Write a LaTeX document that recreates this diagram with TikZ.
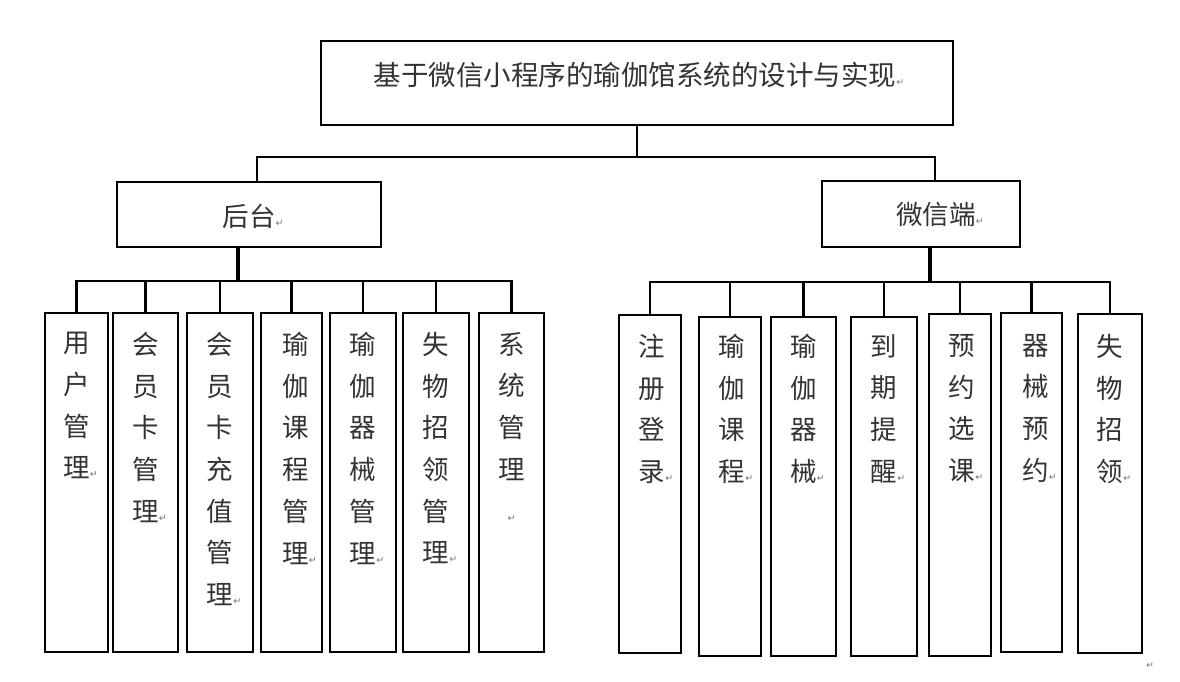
\documentclass[tikz,border=0pt]{standalone}
\usepackage{fontspec}
\newfontfamily\cjk{Noto Sans CJK SC}
\newfontfamily\djv{DejaVu Sans}
\usetikzlibrary{calc}
\newcommand\ret{{\djv\fontsize{9.5pt}{9.5pt}\selectfont\textcolor{black!55}{↵}}}
\newcommand\rr{\rlap{\ret}}
\newcommand\mybox[5]{\node[box, minimum width={(#4-#2)*1pt}, minimum height={(#5-#3)*1pt}] (#1) at ({(#2+#4)/2},{(#3+#5)/2}) {};}
\tikzset{
  box/.style={draw=black, line width=2.4pt, inner sep=0pt, rectangle},
  conn/.style={draw=black, line width=2.2pt},
  trunk/.style={draw=black, line width=3.4pt},
  titletext/.style={font=\cjk\fontsize{27.5pt}{32pt}\selectfont, text=black!80, inner sep=0pt},
  midtext/.style={font=\cjk\fontsize{26.5pt}{30pt}\selectfont, text=black!80, inner sep=0pt},
  coltext/.style={font=\cjk\fontsize{26.5pt}{41.7pt}\selectfont, text=black!80, inner sep=0pt,
    align=center, anchor=north, execute at begin node={\rule{0pt}{24pt}}},
}
\begin{document}
\begin{tikzpicture}[x=1pt, y=-1pt]
\useasboundingbox (0,0) rectangle (1180,681);
% boxes
\mybox{top}{321}{41}{953}{125}
\mybox{ht}{117}{182}{381}{247}
\mybox{wx}{822}{181}{1020}{247}
\mybox{L1}{45}{313}{108}{652}
\mybox{L2}{113}{313}{178}{652}
\mybox{L3}{187}{313}{253}{652}
\mybox{L4}{261}{313}{322}{652}
\mybox{L5}{330}{313}{396}{652}
\mybox{L6}{403}{313}{469}{652}
\mybox{L7}{479}{313}{544}{652}
\mybox{R1}{619}{315}{681}{653}
\mybox{R2}{699}{317}{761}{656}
\mybox{R3}{771}{317}{836}{656}
\mybox{R4}{851}{317}{917}{656}
\mybox{R5}{929}{314}{991}{656}
\mybox{R6}{1001}{313}{1062}{652}
\mybox{R7}{1078}{314}{1142}{653}
% texts
\node[titletext] (topt) at (635,75) {基于微信小程序的瑜伽馆系统的设计与实现\rr};
\node[midtext] (htt) at (249,216) {后台\rr};
\node[midtext] (wxt) at (936,214) {微信端\rr};
\node[coltext] (L1t) at (L1.north |- 0,332) {用\\户\\管\\理\rr};
\node[coltext] (L2t) at (L2.north |- 0,332) {会\\员\\卡\\管\\理\rr};
\node[coltext] (L3t) at (L3.north |- 0,332) {会\\员\\卡\\充\\值\\管\\理\rr};
\node[coltext] (L4t) at ($(L4.north |- 0,332)+(4,0)$) {瑜\\伽\\课\\程\\管\\理\rr};
\node[coltext] (L5t) at (L5.north |- 0,332) {瑜\\伽\\器\\械\\管\\理\rr};
\node[coltext] (L6t) at (L6.north |- 0,332) {失\\物\\招\\领\\管\\理\rr};
\node[coltext] (L7t) at (L7.north |- 0,332) {系\\统\\管\\理\\\ret};
\node[coltext] (R1t) at ($(R1.north |- 0,334)+(2,0)$) {注\\册\\登\\录\rr};
\node[coltext] (R2t) at ($(R2.north |- 0,334)+(2,0)$) {瑜\\伽\\课\\程\rr};
\node[coltext] (R3t) at (R3.north |- 0,334) {瑜\\伽\\器\\械\rr};
\node[coltext] (R4t) at (R4.north |- 0,334) {到\\期\\提\\醒\rr};
\node[coltext] (R5t) at ($(R5.north |- 0,334)+(2,0)$) {预\\约\\选\\课\rr};
\node[coltext] (R6t) at ($(R6.north |- 0,334)+(4,0)$) {器\\械\\预\\约\rr};
\node[coltext] (R7t) at (R7.north |- 0,334) {失\\物\\招\\领\rr};
\node[inner sep=0pt] (endmark) at (1150,666) {\ret};
% connectors
\coordinate (j0) at (636,157);
\draw[conn] (top.south) -- (top.south |- j0);
\draw[conn] ($(ht.north)+(8,0)$) |- (j0) -| ($(wx.north)+(14,0)$);
\coordinate (jl) at (238,281);
\draw[trunk] (ht.south -| jl) -- (jl);
\draw[conn] (L1.north) |- (jl) -| (L7.north);
\foreach \i in {2,...,6} \draw[conn] (L\i.north) -- (L\i.north |- jl);
\coordinate (jr) at (930,282);
\draw[trunk] (wx.south -| jr) -- (jr);
\draw[conn] (R1.north) |- (jr) -| (R7.north);
\foreach \i in {2,...,6} \draw[conn] (R\i.north) -- (R\i.north |- jr);
\end{tikzpicture}
\end{document}
